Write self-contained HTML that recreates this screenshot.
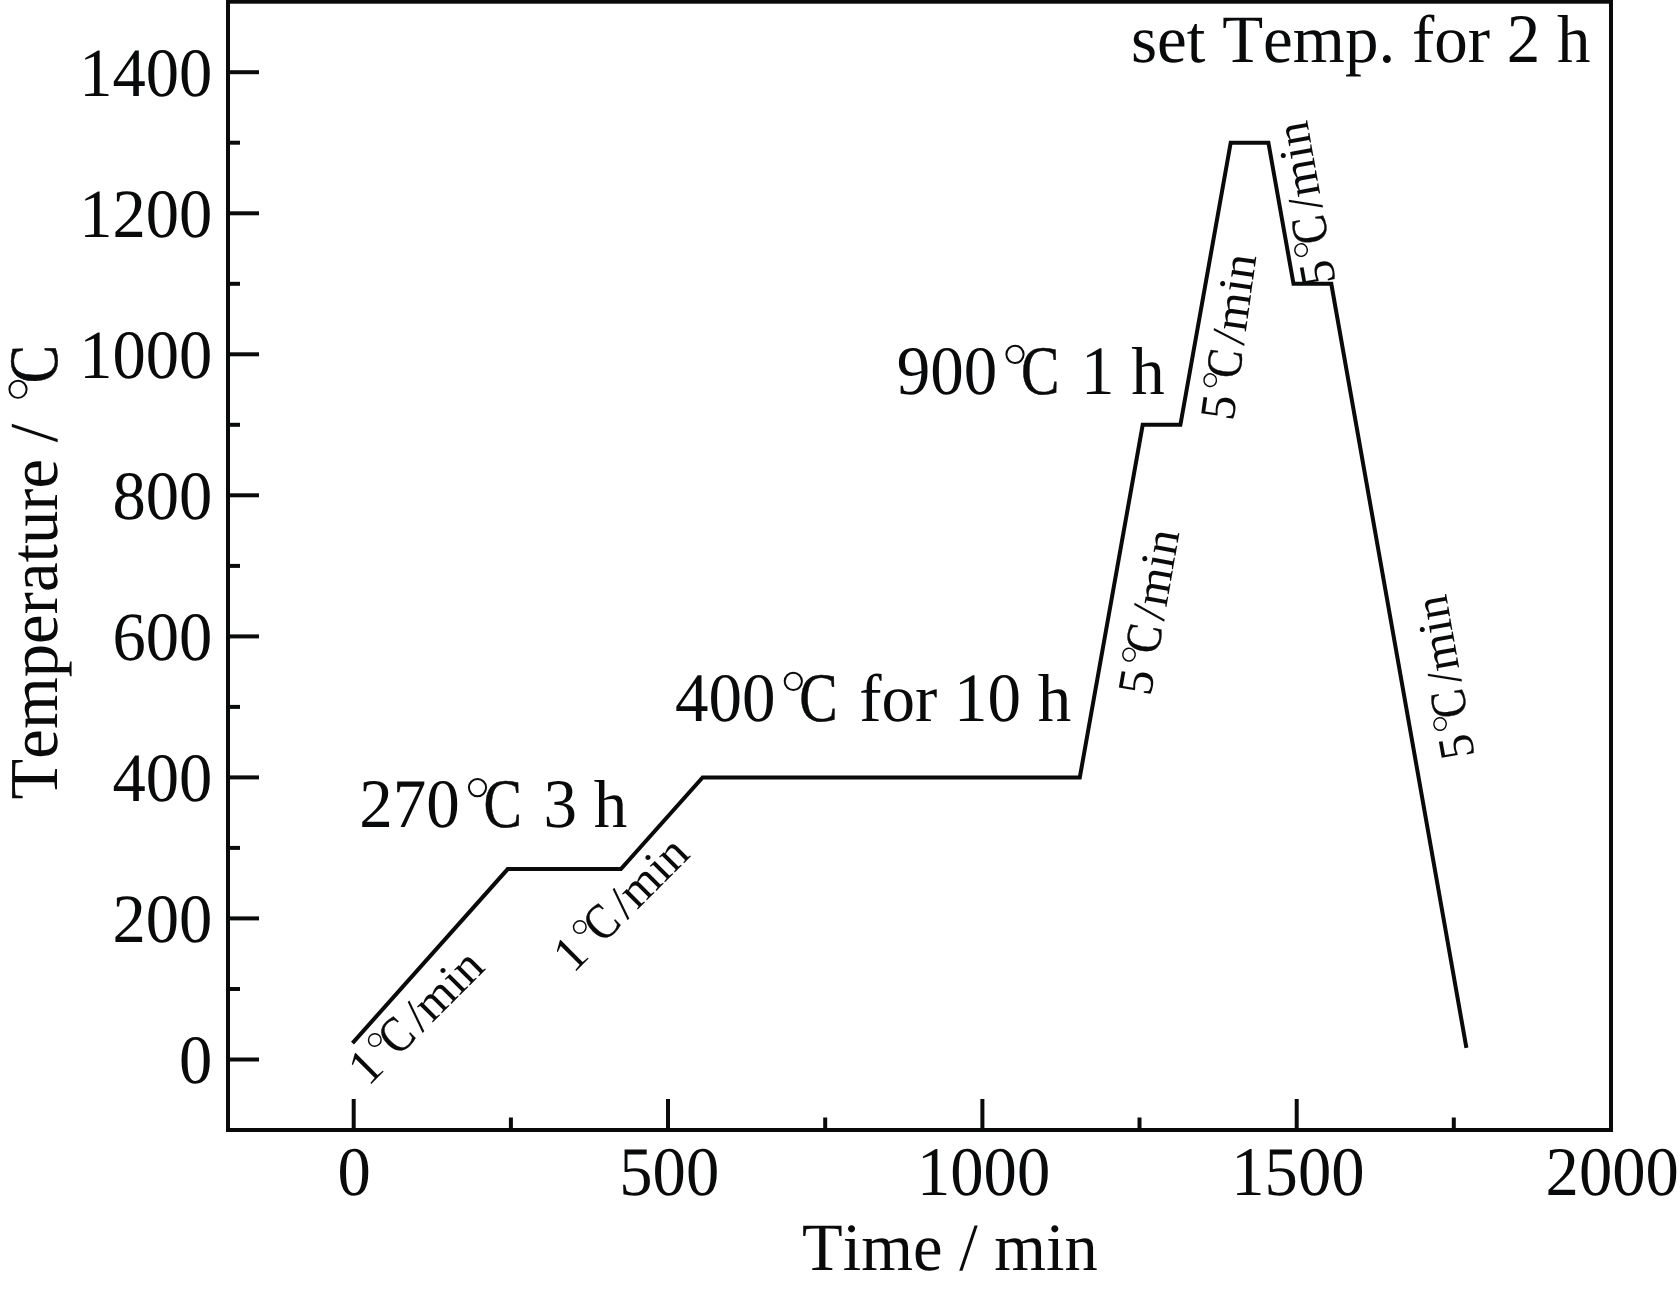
<!DOCTYPE html>
<html><head><meta charset="utf-8"><title>chart</title>
<style>
html,body{margin:0;padding:0;background:#fff;}
body{width:1680px;height:1291px;overflow:hidden;}
svg{display:block;will-change:transform;}
text{font-family:"Liberation Serif",serif;fill:#080a0b;text-rendering:geometricPrecision;font-kerning:none;}
.ln{stroke:#080a0b;stroke-width:4;fill:none;}
</style></head><body>
<svg width="1680" height="1291" viewBox="0 0 1680 1291">
<rect x="0" y="0" width="1680" height="1291" fill="#ffffff"/>
<rect class="ln" x="228.0" y="1.7" width="1383.0" height="1128.3"/>
<line class="ln" x1="228.0" y1="1059.5" x2="259.0" y2="1059.5"/>
<line class="ln" x1="228.0" y1="989.0" x2="240.0" y2="989.0"/>
<line class="ln" x1="228.0" y1="918.4" x2="259.0" y2="918.4"/>
<line class="ln" x1="228.0" y1="847.9" x2="240.0" y2="847.9"/>
<line class="ln" x1="228.0" y1="777.4" x2="259.0" y2="777.4"/>
<line class="ln" x1="228.0" y1="706.9" x2="240.0" y2="706.9"/>
<line class="ln" x1="228.0" y1="636.4" x2="259.0" y2="636.4"/>
<line class="ln" x1="228.0" y1="565.9" x2="240.0" y2="565.9"/>
<line class="ln" x1="228.0" y1="495.3" x2="259.0" y2="495.3"/>
<line class="ln" x1="228.0" y1="424.8" x2="240.0" y2="424.8"/>
<line class="ln" x1="228.0" y1="354.3" x2="259.0" y2="354.3"/>
<line class="ln" x1="228.0" y1="283.8" x2="240.0" y2="283.8"/>
<line class="ln" x1="228.0" y1="213.3" x2="259.0" y2="213.3"/>
<line class="ln" x1="228.0" y1="142.7" x2="240.0" y2="142.7"/>
<line class="ln" x1="228.0" y1="72.2" x2="259.0" y2="72.2"/>
<line class="ln" x1="353.7" y1="1130.0" x2="353.7" y2="1099.0"/>
<line class="ln" x1="510.9" y1="1130.0" x2="510.9" y2="1117.5"/>
<line class="ln" x1="668.0" y1="1130.0" x2="668.0" y2="1099.0"/>
<line class="ln" x1="825.2" y1="1130.0" x2="825.2" y2="1117.5"/>
<line class="ln" x1="982.4" y1="1130.0" x2="982.4" y2="1099.0"/>
<line class="ln" x1="1139.5" y1="1130.0" x2="1139.5" y2="1117.5"/>
<line class="ln" x1="1296.7" y1="1130.0" x2="1296.7" y2="1099.0"/>
<line class="ln" x1="1453.8" y1="1130.0" x2="1453.8" y2="1117.5"/>
<polyline class="ln" stroke-linejoin="miter" points="352.5,1043.1 507.7,869.1 620.9,869.1 702.6,777.4 1079.8,777.4 1142.7,424.8 1180.4,424.8 1230.7,142.7 1268.4,142.7 1293.5,283.8 1331.3,283.8 1466.4,1047.8"/>
<g transform="translate(212.40,1083.48) scale(0.9945,1)"><text transform="translate(-33.50,0) scale(1,1.03)" font-size="67.0">0</text></g>
<g transform="translate(212.40,942.44) scale(0.9945,1)"><text transform="translate(-100.50,0) scale(1,1.03)" font-size="67.0">200</text></g>
<g transform="translate(212.40,801.41) scale(0.9945,1)"><text transform="translate(-100.50,0) scale(1,1.03)" font-size="67.0">400</text></g>
<g transform="translate(212.40,660.37) scale(0.9945,1)"><text transform="translate(-100.50,0) scale(1,1.03)" font-size="67.0">600</text></g>
<g transform="translate(212.40,519.33) scale(0.9945,1)"><text transform="translate(-100.50,0) scale(1,1.03)" font-size="67.0">800</text></g>
<g transform="translate(212.40,378.29) scale(0.9945,1)"><text transform="translate(-134.00,0) scale(1,1.03)" font-size="67.0">1000</text></g>
<g transform="translate(212.40,237.26) scale(0.9945,1)"><text transform="translate(-134.00,0) scale(1,1.03)" font-size="67.0">1200</text></g>
<g transform="translate(212.40,96.22) scale(0.9945,1)"><text transform="translate(-134.00,0) scale(1,1.03)" font-size="67.0">1400</text></g>
<g transform="translate(354.13,1194.60) scale(0.9945,1)"><text transform="translate(-16.75,0) scale(1,1.04)" font-size="67.0">0</text></g>
<g transform="translate(669.25,1194.60) scale(0.9945,1)"><text transform="translate(-50.25,0) scale(1,1.04)" font-size="67.0">500</text></g>
<g transform="translate(983.56,1194.60) scale(0.9945,1)"><text transform="translate(-67.00,0) scale(1,1.04)" font-size="67.0">1000</text></g>
<g transform="translate(1297.88,1194.60) scale(0.9945,1)"><text transform="translate(-67.00,0) scale(1,1.04)" font-size="67.0">1500</text></g>
<g transform="translate(1612.20,1194.60) scale(0.9945,1)"><text transform="translate(-67.00,0) scale(1,1.04)" font-size="67.0">2000</text></g>
<g transform="translate(802.00,1269.90) scale(0.9936,1)"><text transform="translate(0.00,0) scale(1,1.01)" font-size="67.0">Time / min</text></g>
<g transform="translate(57.40,799.40) rotate(-90) scale(0.995,1)"><text transform="translate(0.00,0) scale(1,1.023)" font-size="67.0">Temperature / </text><circle cx="412.14" cy="-39.40" r="8.60" fill="none" stroke="#080a0b" stroke-width="2.00"/><text transform="translate(418.14,0) scale(0.86,1.035)" font-size="67.0" stroke="#080a0b" stroke-width="0.50">C</text></g>
<g transform="translate(359.20,827.00)"><text transform="translate(0.00,0) scale(1,1.035)" font-size="67.0">270</text><circle cx="118.30" cy="-39.40" r="8.60" fill="none" stroke="#080a0b" stroke-width="2.00"/><text transform="translate(124.30,0) scale(0.86,1.035)" font-size="67.0" stroke="#080a0b" stroke-width="0.50">C</text><text transform="translate(167.50,0) scale(1,1.01)" font-size="67.0"> </text><text transform="translate(184.25,0) scale(1,1.035)" font-size="67.0">3 </text><text transform="translate(234.50,0) scale(1,1.01)" font-size="67.0">h</text></g>
<g transform="translate(675.00,720.75)"><text transform="translate(0.00,0) scale(1,1.035)" font-size="67.0">400</text><circle cx="118.30" cy="-39.40" r="8.60" fill="none" stroke="#080a0b" stroke-width="2.00"/><text transform="translate(124.30,0) scale(0.86,1.035)" font-size="67.0" stroke="#080a0b" stroke-width="0.50">C</text><text transform="translate(167.50,0) scale(1,1.01)" font-size="67.0"> for </text><text transform="translate(279.12,0) scale(1,1.035)" font-size="67.0">10 </text><text transform="translate(362.87,0) scale(1,1.01)" font-size="67.0">h</text></g>
<g transform="translate(896.70,393.75)"><text transform="translate(0.00,0) scale(1,1.035)" font-size="67.0">900</text><circle cx="118.30" cy="-39.40" r="8.60" fill="none" stroke="#080a0b" stroke-width="2.00"/><text transform="translate(124.30,0) scale(0.86,1.035)" font-size="67.0" stroke="#080a0b" stroke-width="0.50">C</text><text transform="translate(167.50,0) scale(1,1.01)" font-size="67.0"> </text><text transform="translate(184.25,0) scale(1,1.035)" font-size="67.0">1 </text><text transform="translate(234.50,0) scale(1,1.01)" font-size="67.0">h</text></g>
<g transform="translate(1131.00,62.00)"><text transform="translate(0.00,0) scale(1,1.01)" font-size="67.0">set Temp. for </text><text transform="translate(375.83,0) scale(1,1.035)" font-size="67.0">2 </text><text transform="translate(426.08,0) scale(1,1.01)" font-size="67.0">h</text></g>
<g transform="translate(368.20,1086.90) rotate(-45) scale(1.02,1)"><text transform="translate(0.00,0) scale(1,1.035)" font-size="48.5">1</text><circle cx="37.14" cy="-28.52" r="6.23" fill="none" stroke="#080a0b" stroke-width="1.45"/><text transform="translate(41.48,0) scale(0.86,1.035)" font-size="48.5" stroke="#080a0b" stroke-width="0.36">C</text><text transform="translate(74.93,0) scale(1,1.0)" font-size="48.5">/min</text></g>
<g transform="translate(573.20,974.00) rotate(-45) scale(1.02,1)"><text transform="translate(0.00,0) scale(1,1.035)" font-size="48.5">1</text><circle cx="37.14" cy="-28.52" r="6.23" fill="none" stroke="#080a0b" stroke-width="1.45"/><text transform="translate(41.48,0) scale(0.86,1.035)" font-size="48.5" stroke="#080a0b" stroke-width="0.36">C</text><text transform="translate(74.93,0) scale(1,1.0)" font-size="48.5">/min</text></g>
<g transform="translate(1150.50,696.90) rotate(-80) scale(1.02,1)"><text transform="translate(0.00,0) scale(1,1.035)" font-size="48.5">5</text><circle cx="37.14" cy="-28.52" r="6.23" fill="none" stroke="#080a0b" stroke-width="1.45"/><text transform="translate(41.48,0) scale(0.86,1.035)" font-size="48.5" stroke="#080a0b" stroke-width="0.36">C</text><text transform="translate(74.93,0) scale(1,1.0)" font-size="48.5">/min</text></g>
<g transform="translate(1233.20,421.70) rotate(-82) scale(1.02,1)"><text transform="translate(0.00,0) scale(1,1.035)" font-size="48.5">5</text><circle cx="37.14" cy="-28.52" r="6.23" fill="none" stroke="#080a0b" stroke-width="1.45"/><text transform="translate(41.48,0) scale(0.86,1.035)" font-size="48.5" stroke="#080a0b" stroke-width="0.36">C</text><text transform="translate(74.93,0) scale(1,1.0)" font-size="48.5">/min</text></g>
<g transform="translate(1335.65,282.00) rotate(-100) scale(1.008,1)"><text transform="translate(0.00,0) scale(1,1.035)" font-size="48.5">5</text><circle cx="37.14" cy="-28.52" r="6.23" fill="none" stroke="#080a0b" stroke-width="1.45"/><text transform="translate(41.48,0) scale(0.86,1.035)" font-size="48.5" stroke="#080a0b" stroke-width="0.36">C</text><text transform="translate(74.93,0) scale(1,1.0)" font-size="48.5">/min</text></g>
<g transform="translate(1474.65,755.90) rotate(-100) scale(1.008,1)"><text transform="translate(0.00,0) scale(1,1.035)" font-size="48.5">5</text><circle cx="37.14" cy="-28.52" r="6.23" fill="none" stroke="#080a0b" stroke-width="1.45"/><text transform="translate(41.48,0) scale(0.86,1.035)" font-size="48.5" stroke="#080a0b" stroke-width="0.36">C</text><text transform="translate(74.93,0) scale(1,1.0)" font-size="48.5">/min</text></g>
</svg></body></html>
